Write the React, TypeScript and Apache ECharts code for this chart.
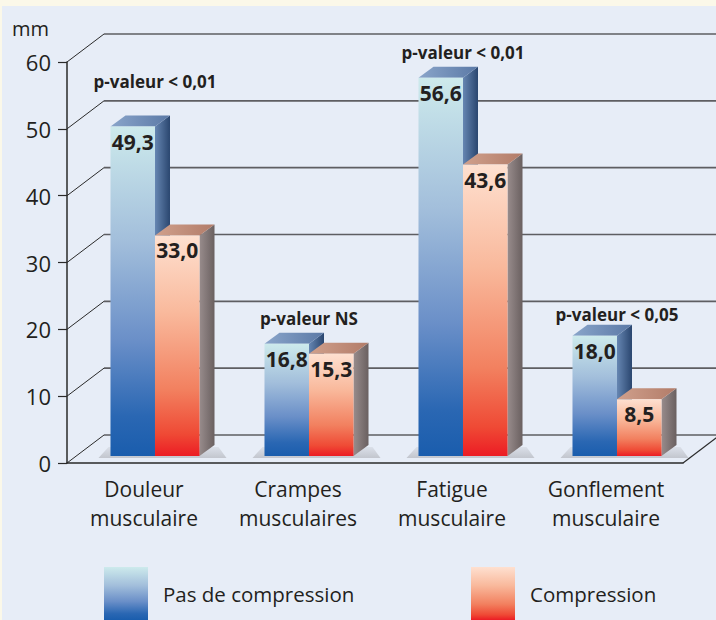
import React, { useEffect, useRef } from "react";
import * as echarts from "echarts";

// ---- data ----
const categories = [
  "Douleur\nmusculaire",
  "Crampes\nmusculaires",
  "Fatigue\nmusculaire",
  "Gonflement\nmusculaire",
];
const seriesNames = ["Pas de compression", "Compression"];
const pasDeCompression = [49.3, 16.8, 56.6, 18.0];
const compression = [33.0, 15.3, 43.6, 8.5];
const pValueLabels = ["p-valeur < 0,01", "p-valeur NS", "p-valeur < 0,01", "p-valeur < 0,05"];
const pValueLevels = [56.1, 20.6, 60.3, 21.2];
const yTicks = [0, 10, 20, 30, 40, 50, 60];
const yUnit = "mm";

// ---- style constants ----
const FONT = '"Open Sans", "Noto Sans", sans-serif';
const TEXT = "#231f20";
const WALL_DX = 37;
const WALL_DY = -28;
const BAR_DY = -7;
const TOP_DX = 15;
const TOP_DY = -11;

const lg = (x2: number, y2: number, stops: [number, string][]) =>
  new echarts.graphic.LinearGradient(0, 0, x2, y2, stops.map(([offset, color]) => ({ offset, color })));

const frontColors = [
  lg(0, 1, [
    [0, "#cdeaec"],
    [0.35, "#a2bedb"],
    [0.65, "#6a8fc8"],
    [0.88, "#2a67b3"],
    [1, "#1a5dad"],
  ]),
  lg(0, 1, [
    [0, "#fee0d0"],
    [0.35, "#f9b99c"],
    [0.7, "#f2805f"],
    [0.9, "#ef4a35"],
    [1, "#ec1c24"],
  ]),
];
const topColors = [
  lg(1, 0, [
    [0, "#8aa5ca"],
    [1, "#5b79a6"],
  ]),
  lg(1, 0, [
    [0, "#d0a08c"],
    [1, "#b27c69"],
  ]),
];
const sideColors = [
  lg(1, 0, [
    [0, "#6686b2"],
    [1, "#2a466f"],
  ]),
  lg(1, 0, [
    [0, "#988c8c"],
    [1, "#6a6060"],
  ]),
];

const fmt = (v: number) => v.toFixed(1).replace(".", ",");

function barRenderer(s: number) {
  return (params: any, api: any) => {
    const idx = api.value(0);
    const v = api.value(1);
    const base = api.coord([idx, 0]);
    const top = api.coord([idx, v]);
    const band = api.size([1, 0])[0];
    const bw = band * 0.289;
    const cx = base[0] + band * 0.0714;
    const left = s === 0 ? cx - bw : cx;
    const right = left + bw;
    const yb = base[1] + BAR_DY;
    const yt = top[1] + BAR_DY;
    const children: any[] = [];
    if (s === 0) {
      children.push({
        type: "polygon",
        shape: {
          points: [
            [cx - bw - 12, yb + 2],
            [cx + bw + TOP_DX + 12, yb + 2],
            [cx + bw + TOP_DX + 4, yb - 9],
            [cx - bw - 2, yb - 9],
          ],
        },
        style: {
          fill: lg(0, 1, [
            [0, "rgba(150,150,155,0.15)"],
            [1, "rgba(150,150,155,0.45)"],
          ]),
        },
      });
    }
    children.push(
      {
        type: "polygon",
        shape: {
          points: [
            [right, yt],
            [right + TOP_DX, yt + TOP_DY],
            [right + TOP_DX, yb + TOP_DY],
            [right, yb],
          ],
        },
        style: { fill: sideColors[s] },
      },
      {
        type: "polygon",
        shape: {
          points: [
            [left, yt],
            [left + TOP_DX, yt + TOP_DY],
            [right + TOP_DX, yt + TOP_DY],
            [right, yt],
          ],
        },
        style: { fill: topColors[s] },
      },
      {
        type: "rect",
        shape: { x: left, y: yt, width: bw, height: yb - yt },
        style: { fill: frontColors[s] },
      },
      {
        type: "text",
        x: (left + right) / 2,
        y: yt + 15,
        style: {
          text: fmt(v),
          fill: TEXT,
          font: `bold 21px ${FONT}`,
          align: "center",
          verticalAlign: "middle",
        },
      }
    );
    return { type: "group", children };
  };
}

export default function App() {
  const ref = useRef<HTMLDivElement>(null);

  useEffect(() => {
    if (!ref.current) return;
    const chart = echarts.init(ref.current, undefined, { renderer: "svg" });

    const wallRender = (params: any, api: any) => {
      const v = api.value(1);
      const cs = params.coordSys;
      const p = api.coord([0, v]);
      const y = p[1];
      const gx = cs.x;
      const children: any[] = [
        {
          type: "line",
          shape: { x1: gx + WALL_DX, y1: y + WALL_DY, x2: 730, y2: y + WALL_DY },
          style: { stroke: "#5e5e62", lineWidth: 1.6 },
        },
        {
          type: "line",
          shape: { x1: gx, y1: y, x2: gx + WALL_DX, y2: y + WALL_DY },
          style: { stroke: "#2a2a2a", lineWidth: 1 },
        },
      ];
      if (v === 0) {
        const rx = cs.x + cs.width;
        children.push({
          type: "line",
          shape: { x1: rx, y1: y, x2: rx + WALL_DX, y2: y + WALL_DY },
          style: { stroke: "#2a2a2a", lineWidth: 1.2 },
        });
      }
      return { type: "group", children };
    };

    const annotRender = (params: any, api: any) => {
      const idx = api.value(0);
      const lvl = api.value(1);
      const p = api.coord([idx, lvl]);
      const band = api.size([1, 0])[0];
      return {
        type: "text",
        x: p[0] + band * 0.0714,
        y: p[1] + BAR_DY,
        style: {
          text: pValueLabels[params.dataIndex],
          fill: TEXT,
          font: `bold 17px ${FONT}`,
          align: "center",
          verticalAlign: "middle",
        },
      };
    };

    const legendBase = {
      icon: "rect",
      itemWidth: 44,
      itemHeight: 53,
      padding: 0,
      selectedMode: false,
      textStyle: {
        fontSize: 20.5,
        fontFamily: FONT,
        color: TEXT,
        padding: [0, 0, 0, 10],
      },
    };

    chart.setOption({
      animation: false,
      backgroundColor: "#e7edf7",
      textStyle: { fontFamily: FONT },
      grid: { left: 67, right: 33, top: 62, bottom: 157 },
      legend: [
        { ...legendBase, data: [seriesNames[0]], left: 104, top: 567 },
        { ...legendBase, data: [seriesNames[1]], left: 471, top: 567 },
      ],
      graphic: [
        { type: "rect", shape: { x: 0, y: 0, width: 716, height: 6 }, style: { fill: "#fbf8e9" }, silent: true },
        { type: "rect", shape: { x: 0, y: 0, width: 2, height: 620 }, style: { fill: "#fbf8e9" }, silent: true },
        {
          type: "text",
          left: 12,
          top: 18,
          style: { text: yUnit, fill: TEXT, font: `20px ${FONT}` },
        },
      ],
      xAxis: {
        type: "category",
        data: categories,
        axisLine: { lineStyle: { color: "#2a2a2a", width: 1.5 } },
        axisTick: { length: 8, lineStyle: { color: "#2a2a2a", width: 1.2 } },
        axisLabel: {
          interval: 0,
          fontSize: 21,
          lineHeight: 29,
          color: TEXT,
          margin: 11,
          fontFamily: FONT,
        },
        splitLine: { show: false },
      },
      yAxis: {
        type: "value",
        min: 0,
        max: 60,
        interval: 10,
        axisLine: { show: true, lineStyle: { color: "#2a2a2a", width: 1.5 } },
        axisTick: { show: true, length: 9, lineStyle: { color: "#2a2a2a", width: 1.2 } },
        axisLabel: {
          fontSize: 22,
          color: TEXT,
          margin: 16,
          fontFamily: FONT,
        },
        splitLine: { show: false },
      },
      series: [
        {
          type: "custom",
          name: "wall",
          clip: false,
          silent: true,
          renderItem: wallRender,
          data: yTicks.map((t) => [0, t]),
          z: 1,
        },
        {
          type: "custom",
          name: seriesNames[0],
          clip: false,
          renderItem: barRenderer(0),
          itemStyle: { color: frontColors[0] },
          data: pasDeCompression.map((v, i) => [i, v]),
          z: 3,
        },
        {
          type: "custom",
          name: seriesNames[1],
          clip: false,
          renderItem: barRenderer(1),
          itemStyle: { color: frontColors[1] },
          data: compression.map((v, i) => [i, v]),
          z: 3,
        },
        {
          type: "custom",
          name: "annotations",
          clip: false,
          silent: true,
          renderItem: annotRender,
          data: pValueLevels.map((v, i) => [i, v]),
          z: 4,
        },
      ],
    });

    return () => chart.dispose();
  }, []);

  return (
    <div
      ref={ref}
      style={{ position: "fixed", left: 0, top: 0, width: 716, height: 620 }}
    />
  );
}
